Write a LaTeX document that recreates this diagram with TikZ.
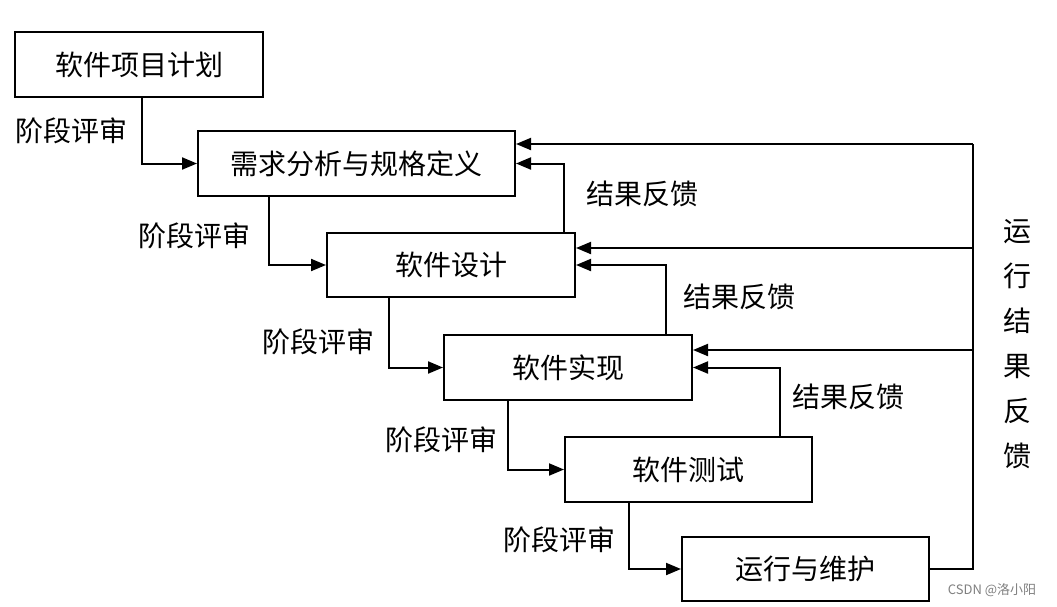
\documentclass[tikz,border=0pt]{standalone}
\usepackage{fontspec}
\setmainfont{Noto Sans CJK SC}
\usetikzlibrary{arrows.meta}
\begin{document}
\begin{tikzpicture}[x=1pt,y=-1pt,
  box/.style={draw=black,line width=2pt,fill=white,inner sep=0pt,font=\fontsize{28}{34}\selectfont},
  lbl/.style={inner sep=0pt,font=\fontsize{28}{34}\selectfont},
  conn/.style={line width=2pt,draw=black},
  arr/.style={conn,-{Triangle[length=15pt,width=12pt]}}]
\useasboundingbox[fill=white] (0,0) rectangle (1057,606);
% boxes
\node[box,minimum width=248pt,minimum height=65pt] (b1) at (139,64.5) {软件项目计划};
\node[box,minimum width=317pt,minimum height=65pt] (b2) at (356.5,163.5) {需求分析与规格定义};
\node[box,minimum width=248pt,minimum height=64pt] (b3) at (451,265) {软件设计};
\node[box,minimum width=248pt,minimum height=65pt] (b4) at (568,367.5) {软件实现};
\node[box,minimum width=247pt,minimum height=65pt] (b5) at (688.5,469.5) {软件测试};
\node[box,minimum width=247pt,minimum height=64pt] (b6) at (805.5,569) {运行与维护};
% stage reviews
\draw[arr] ([xshift=128pt]b1.south west) |- (b2.west);
\draw[arr] ([xshift=72pt]b2.south west) |- (b3.west);
\draw[arr] ([xshift=63pt]b3.south west) |- (b4.west);
\draw[arr] ([xshift=65pt]b4.south west) |- (b5.west);
\draw[arr] ([xshift=65pt]b5.south west) |- (b6.west);
% result feedback
\draw[arr] ([xshift=238pt]b3.north west) |- (b2.east);
\draw[arr] ([xshift=223pt]b4.north west) |- (b3.east);
\draw[arr] ([xshift=216pt]b5.north west) |- (b4.east);
% run feedback
\coordinate (rtop) at (973,144);
\coordinate (r3) at (973,248);
\coordinate (r4) at (973,350);
\draw[conn] (b6.east) -| (rtop);
\draw[arr] (rtop) -- (rtop -| b2.east);
\draw[arr] (r3) -- (r3 -| b3.east);
\draw[arr] (r4) -- (r4 -| b4.east);
% labels
\node[lbl] (s1) at (71,131) {阶段评审};
\node[lbl] (s2) at (194,236) {阶段评审};
\node[lbl] (s3) at (318,342) {阶段评审};
\node[lbl] (s4) at (441,440) {阶段评审};
\node[lbl] (s5) at (559,540) {阶段评审};
\node[lbl] (f1) at (642,194) {结果反馈};
\node[lbl] (f2) at (739,297) {结果反馈};
\node[lbl] (f3) at (848,397) {结果反馈};
\node[inner sep=0pt,align=center,font=\fontsize{28}{45}\selectfont] (rv) at (1017,344) {运\\行\\结\\果\\反\\馈};
\node[inner sep=0pt,text=gray,font=\fontsize{13}{15}\selectfont] (wm) at (992,590) {CSDN @洛小阳};
\end{tikzpicture}
\end{document}
